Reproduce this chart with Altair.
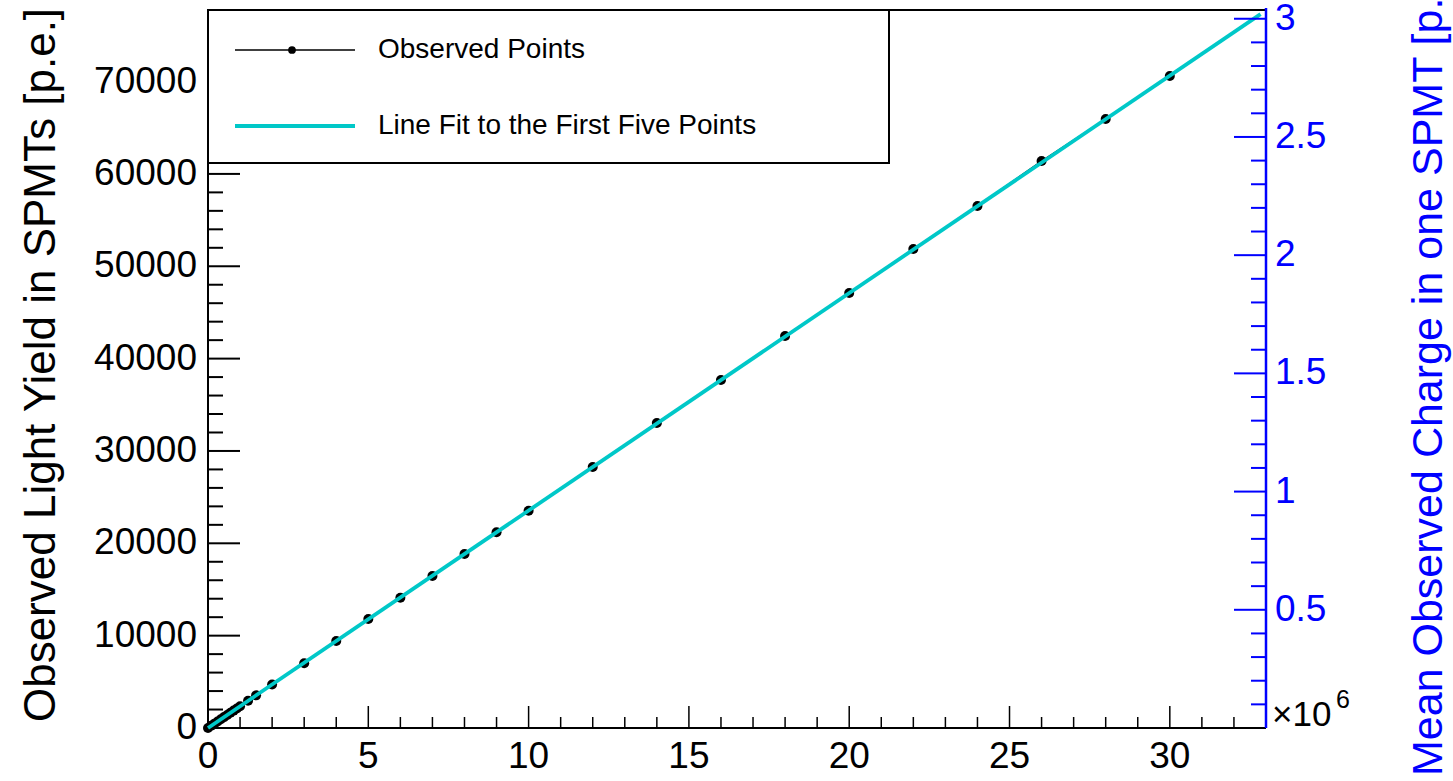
import altair as alt
import pandas as pd

# ---- data (x in units of 10^6) ----
obs_x = [0, 0.1, 0.2, 0.3, 0.4, 0.5, 0.6, 0.7, 0.8, 0.9, 1.0, 1.25, 1.5, 2, 3, 4, 5, 6, 7, 8, 9, 10,
         12, 14, 16, 18, 20, 22, 24, 26, 28, 30]
obs_y = [0, 236, 472, 707, 943, 1178, 1413, 1648, 1884, 2119, 2355, 2944, 3533, 4720, 7006, 9420,
         11802, 14100, 16459, 18841, 21190, 23530, 28262, 33026, 37683, 42447, 47103, 51868, 56524,
         61397, 65944, 70600]
fit_x = [0, 32.83]
fit_y = [0, 77310]

left_major = [0, 10000, 20000, 30000, 40000, 50000, 60000, 70000]
left_labels = ["0", "10000", "20000", "30000", "40000", "50000", "60000", "70000"]
left_minor = [v for v in range(2000, 78000, 2000) if v % 10000 != 0]
bottom_major = [0, 5, 10, 15, 20, 25, 30]
bottom_labels = ["0", "5", "10", "15", "20", "25", "30"]
bottom_minor = [v for v in range(1, 33) if v % 5 != 0]
right_major = [0.5, 1.0, 1.5, 2.0, 2.5, 3.0]
right_labels = ["0.5", "1", "1.5", "2", "2.5", "3"]
right_minor = [round(i * 0.1, 1) for i in range(1, 31) if i % 5 != 0]

x_domain = [0, 33]
y_domain = [0, 77750]
right_domain = [0, 3.037]

FONT = "Liberation Sans"
CYAN = "#00c8c8"
BLUE = "#0000ff"
W, H = 1058, 718
LABEL_FS = 37

obs_df = pd.DataFrame({"x": obs_x, "y": obs_y})
fit_df = pd.DataFrame({"x": fit_x, "y": fit_y})
one = pd.DataFrame({"a": [0]})

xscale = alt.Scale(domain=x_domain, nice=False, zero=False)
yscale = alt.Scale(domain=y_domain, nice=False, zero=False)
rscale = alt.Scale(domain=right_domain, nice=False, zero=False)

# left-axis ticks (inward) and labels
lmaj = alt.Chart(pd.DataFrame({"v": left_major})).mark_rule(color="black", strokeWidth=2).encode(
    y=alt.Y("v:Q", scale=yscale, axis=None), x=alt.value(0), x2=alt.value(32))
lmin = alt.Chart(pd.DataFrame({"v": left_minor})).mark_rule(color="black", strokeWidth=2).encode(
    y=alt.Y("v:Q", scale=yscale, axis=None), x=alt.value(0), x2=alt.value(15))
llab = alt.Chart(pd.DataFrame({"v": left_major, "t": left_labels})).mark_text(
    align="right", baseline="middle", font=FONT, fontSize=LABEL_FS, color="black").encode(
    y=alt.Y("v:Q", scale=yscale, axis=None), x=alt.value(-11), text="t:N")
# bottom-axis ticks (inward) and labels
bmaj = alt.Chart(pd.DataFrame({"v": bottom_major})).mark_rule(color="black", strokeWidth=1.5).encode(
    x=alt.X("v:Q", scale=xscale, axis=None), y=alt.value(H), y2=alt.value(H - 22))
bmin = alt.Chart(pd.DataFrame({"v": bottom_minor})).mark_rule(color="black", strokeWidth=1.5).encode(
    x=alt.X("v:Q", scale=xscale, axis=None), y=alt.value(H), y2=alt.value(H - 11))
blab = alt.Chart(pd.DataFrame({"v": bottom_major, "t": bottom_labels})).mark_text(
    align="center", baseline="top", font=FONT, fontSize=LABEL_FS, color="black").encode(
    x=alt.X("v:Q", scale=xscale, axis=None), y=alt.value(H + 11), text="t:N")
# frame lines
top = alt.Chart(one).mark_rule(color="black", strokeWidth=2).encode(
    x=alt.value(0), x2=alt.value(W), y=alt.value(0))
left_dom = alt.Chart(one).mark_rule(color="black", strokeWidth=2).encode(
    x=alt.value(0), y=alt.value(0), y2=alt.value(H))
bottom_dom = alt.Chart(one).mark_rule(color="black", strokeWidth=2).encode(
    x=alt.value(0), x2=alt.value(W), y=alt.value(H))

obs_line = alt.Chart(obs_df).mark_line(color="black", strokeWidth=1.5).encode(
    x=alt.X("x:Q", scale=xscale, axis=None), y=alt.Y("y:Q", scale=yscale, axis=None))
obs_pts = alt.Chart(obs_df).mark_circle(color="black", opacity=1, size=100).encode(
    x=alt.X("x:Q", scale=xscale, axis=None), y=alt.Y("y:Q", scale=yscale, axis=None))
fit_line = alt.Chart(fit_df).mark_line(color=CYAN, strokeWidth=3.8).encode(
    x=alt.X("x:Q", scale=xscale, axis=None), y=alt.Y("y:Q", scale=yscale, axis=None))

# legend box
leg_box = alt.Chart(one).mark_rect(fill="white", stroke="black", strokeWidth=2).encode(
    x=alt.value(0), x2=alt.value(681), y=alt.value(0), y2=alt.value(153))
leg_l1 = alt.Chart(one).mark_rule(color="black", strokeWidth=1.5).encode(
    x=alt.value(27), x2=alt.value(147), y=alt.value(40))
leg_p1 = alt.Chart(one).mark_circle(color="black", opacity=1, size=60).encode(
    x=alt.value(84), y=alt.value(40))
leg_l2 = alt.Chart(one).mark_rule(color=CYAN, strokeWidth=4).encode(
    x=alt.value(27), x2=alt.value(147), y=alt.value(116))
leg_t1 = alt.Chart(one).mark_text(align="left", baseline="middle", font=FONT, fontSize=28,
                                  color="black").encode(
    x=alt.value(170), y=alt.value(40), text=alt.value("Observed Points"))
leg_t2 = alt.Chart(one).mark_text(align="left", baseline="middle", font=FONT, fontSize=28,
                                  color="black").encode(
    x=alt.value(170), y=alt.value(116), text=alt.value("Line Fit to the First Five Points"))

# titles
ltitle = alt.Chart(one).mark_text(angle=270, align="center", baseline="middle", font=FONT,
                                  fontSize=44, color="black").encode(
    x=alt.value(-166), y=alt.value(355), text=alt.value("Observed Light Yield in SPMTs [p.e.]"))
rtitle = alt.Chart(one).mark_text(angle=270, align="left", baseline="middle", font=FONT,
                                  fontSize=43, color=BLUE).encode(
    x=alt.value(1221), y=alt.value(766), text=alt.value("Mean Observed Charge in one SPMT [p.e.]"))
mult = alt.Chart(one).mark_text(align="left", baseline="alphabetic", font=FONT, fontSize=35,
                                color="black").encode(
    x=alt.value(1064), y=alt.value(716), text=alt.value("×10"))
mult_exp = alt.Chart(one).mark_text(align="left", baseline="alphabetic", font=FONT, fontSize=25,
                                    color="black").encode(
    x=alt.value(1128), y=alt.value(698), text=alt.value("6"))

left_layer = alt.layer(lmaj, lmin, llab, bmaj, bmin, blab, top, left_dom, bottom_dom,
                       obs_line, obs_pts, fit_line,
                       leg_box, leg_l1, leg_p1, leg_l2, leg_t1, leg_t2,
                       ltitle, rtitle, mult, mult_exp)

# right (blue) axis
rmaj = alt.Chart(pd.DataFrame({"v": right_major})).mark_rule(color=BLUE, strokeWidth=2).encode(
    y=alt.Y("v:Q", scale=rscale, axis=None), x=alt.value(W - 32), x2=alt.value(W))
rmin = alt.Chart(pd.DataFrame({"v": right_minor})).mark_rule(color=BLUE, strokeWidth=2).encode(
    y=alt.Y("v:Q", scale=rscale, axis=None), x=alt.value(W - 15), x2=alt.value(W))
rlab = alt.Chart(pd.DataFrame({"v": right_major, "t": right_labels})).mark_text(
    align="left", baseline="middle", font=FONT, fontSize=LABEL_FS, color=BLUE).encode(
    y=alt.Y("v:Q", scale=rscale, axis=None), x=alt.value(W + 9), text="t:N")
right_dom = alt.Chart(one).mark_rule(color=BLUE, strokeWidth=2.5).encode(
    x=alt.value(W), y=alt.value(-2), y2=alt.value(H))
right_layer = alt.layer(rmaj, rmin, rlab, right_dom)

chart = alt.layer(left_layer, right_layer).resolve_scale(y="independent").properties(
    width=W, height=H,
    autosize=alt.AutoSizeParams(type="none"),
    padding={"left": 208, "top": 10, "right": 187, "bottom": 53},
    background="white",
).configure_view(stroke=None)

chart.save("out.html", embed_options={"renderer": "svg", "actions": False})
